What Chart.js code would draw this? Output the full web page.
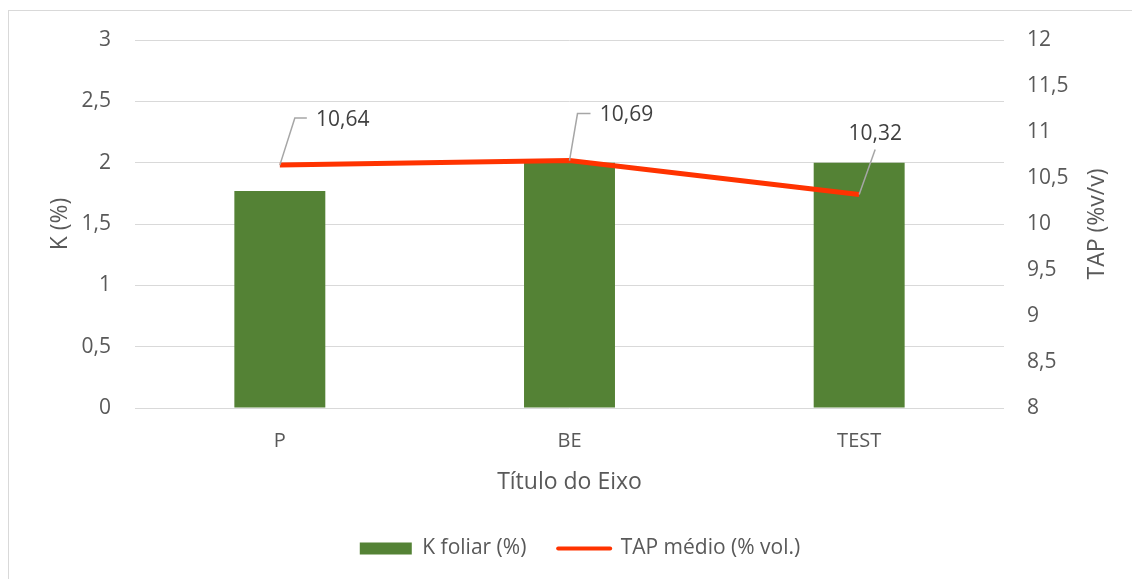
<!DOCTYPE html>
<html lang="pt">
<head>
<meta charset="utf-8">
<title>K foliar e TAP médio</title>
<script src="https://cdn.jsdelivr.net/npm/chart.js@4.4.1/dist/chart.umd.min.js"></script>
<style>
  html, body { margin: 0; padding: 0; background: #fff; }
  #wrap { width: 1132px; height: 579px; }
</style>
</head>
<body>
<div id="wrap"><canvas id="chart" width="1132" height="579"></canvas></div>
<script>
// chart data
const categories = ["P", "BE", "TEST"];
const kFoliar = [1.77, 2.0, 2.0];
const tapMedio = [10.64, 10.69, 10.32];
const leftTicks = [0, 0.5, 1, 1.5, 2, 2.5, 3];
const rightTicks = [8, 8.5, 9, 9.5, 10, 10.5, 11, 11.5, 12];

const textColor = "#595959";
const gridColor = "#d9d9d9";
const barColor = "#548235";
const lineColor = "#ff3300";

// where each data label sits relative to its point (text centre + leader line)
const labelOffsets = [
  { tx: 63, ty: -45, leader: [[15, -47], [27, -47]] },
  { tx: 57, ty: -46, leader: [[8, -47], [21, -47]] },
  { tx: 16, ty: -61, leader: [[16, -45]] }
];

Chart.defaults.font.family = "'Open Sans', sans-serif";
Chart.defaults.color = textColor;

const comma = (v) => String(v).replace(".", ",");

const frameAndTitles = {
  id: "frameAndTitles",
  beforeDraw(chart) {
    const ctx = chart.ctx;
    ctx.save();
    ctx.fillStyle = "#fff";
    ctx.fillRect(0, 0, chart.width, chart.height);
    ctx.strokeStyle = gridColor;
    ctx.lineWidth = 1;
    ctx.strokeRect(8.5, 10.5, chart.width + 20, chart.height + 20);
    ctx.restore();
  },
  afterDraw(chart) {
    // both vertical titles read bottom-to-top, as in the original
    const ctx = chart.ctx;
    const midY = (chart.chartArea.top + chart.chartArea.bottom) / 2;
    ctx.save();
    ctx.fillStyle = textColor;
    ctx.font = "23px 'Open Sans', sans-serif";
    ctx.textAlign = "center";
    ctx.textBaseline = "middle";
    [["K (%)", 60], ["TAP (%v/v)", 1097]].forEach(([t, x]) => {
      ctx.save();
      ctx.translate(x, midY);
      ctx.rotate(-Math.PI / 2);
      ctx.fillText(t, 0, 0);
      ctx.restore();
    });
    ctx.restore();
  }
};

const lineLabels = {
  id: "lineLabels",
  afterDatasetsDraw(chart) {
    const ctx = chart.ctx;
    const meta = chart.getDatasetMeta(1);
    ctx.save();
    meta.data.forEach((pt, i) => {
      const o = labelOffsets[i];
      ctx.strokeStyle = "#a6a6a6";
      ctx.lineWidth = 1.5;
      ctx.beginPath();
      ctx.moveTo(pt.x, pt.y);
      o.leader.forEach(([dx, dy]) => ctx.lineTo(pt.x + dx, pt.y + dy));
      ctx.stroke();
      ctx.fillStyle = "#404040";
      ctx.font = "21px 'Open Sans', sans-serif";
      ctx.textAlign = "center";
      ctx.textBaseline = "middle";
      ctx.fillText(comma(tapMedio[i]), pt.x + o.tx, pt.y + o.ty);
    });
    ctx.restore();
  }
};

new Chart(document.getElementById("chart"), {
  type: "bar",
  data: {
    labels: categories,
    datasets: [
      {
        label: "K foliar (%)",
        data: kFoliar,
        backgroundColor: barColor,
        categoryPercentage: 1,
        barPercentage: 0.314,
        yAxisID: "y",
        order: 2
      },
      {
        type: "line",
        label: "TAP médio (% vol.)",
        data: tapMedio,
        borderColor: lineColor,
        backgroundColor: lineColor,
        borderWidth: 5,
        pointRadius: 0,
        tension: 0,
        yAxisID: "y1",
        order: 1
      }
    ]
  },
  options: {
    responsive: false,
    animation: false,
    layout: { padding: { top: 40, bottom: 10, left: 28, right: 0 } },
    plugins: {
      tooltip: { enabled: false },
      legend: {
        position: "bottom",
        labels: {
          usePointStyle: true,
          pointStyleWidth: 52,
          boxHeight: 12,
          padding: 10,
          color: textColor,
          font: { size: 21 },
          sort: (a, b) => a.datasetIndex - b.datasetIndex,
          generateLabels(chart) {
            const items = Chart.defaults.plugins.legend.labels.generateLabels(chart);
            items.forEach((it) => {
              if (it.datasetIndex === 0) {
                it.pointStyle = "rect";
                it.lineWidth = 0;
                it.text = it.text + "    ";
              } else {
                it.pointStyle = "line";
                it.lineWidth = 4;
                it.lineCap = "round";
                it.strokeStyle = lineColor;
              }
            });
            return items;
          }
        }
      }
    },
    scales: {
      x: {
        grid: { display: false, drawTicks: false },
        border: { display: false },
        ticks: { padding: 21, font: { size: 20 }, color: textColor },
        title: {
          display: true,
          text: "Título do Eixo",
          color: textColor,
          font: { size: 23 },
          padding: { top: 0, bottom: 32 }
        },
        afterFit: (s) => { s.height = 120; }
      },
      y: {
        position: "left",
        min: leftTicks[0],
        max: leftTicks[leftTicks.length - 1],
        ticks: {
          stepSize: leftTicks[1] - leftTicks[0],
          padding: 24,
          font: { size: 21 },
          color: textColor,
          callback: (v) => comma(v)
        },
        grid: { color: gridColor, lineWidth: 1, drawTicks: false },
        border: { display: false },
        afterFit: (s) => { s.width = 107; }
      },
      y1: {
        position: "right",
        min: rightTicks[0],
        max: rightTicks[rightTicks.length - 1],
        ticks: {
          stepSize: rightTicks[1] - rightTicks[0],
          padding: 23,
          font: { size: 21 },
          color: textColor,
          callback: (v) => comma(v)
        },
        grid: { display: false, drawTicks: false },
        border: { display: false },
        afterFit: (s) => { s.width = 128; }
      }
    }
  },
  plugins: [frameAndTitles, lineLabels]
});
</script>
</body>
</html>
